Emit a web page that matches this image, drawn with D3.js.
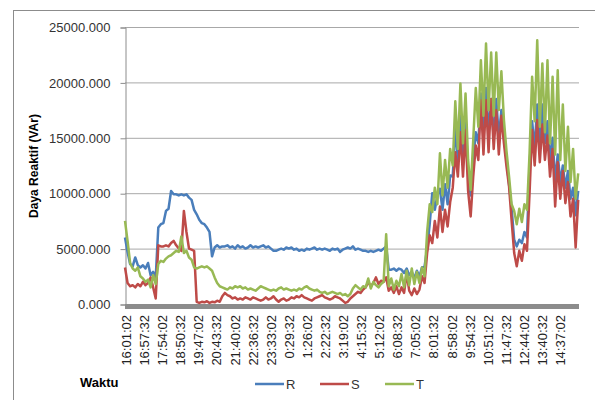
<!DOCTYPE html>
<html><head><meta charset="utf-8">
<script src="https://cdn.jsdelivr.net/npm/d3@7/dist/d3.min.js"></script>
<style>body{margin:0;background:#fff}svg{display:block}</style>
</head><body><svg id="c" width="595" height="400"></svg>
<script>
const tickLabels=["16:01:02","16:57:32","17:54:02","18:50:32","19:47:02","20:43:32","21:40:02","22:36:32","23:33:02","0:29:32","1:26:02","2:22:32","3:19:02","4:15:32","5:12:02","6:08:32","7:05:02","8:01:32","8:58:02","9:54:32","10:51:02","11:47:32","12:44:02","13:40:32","14:37:02"];
const tickStepSec=3390, sampleSec=480, spanSec=85110;
const yTicks=[0,5000,10000,15000,20000,25000];
const seriesNames=["R","S","T"];
const R=[6000,4700,3600,3400,4200,3500,3300,3500,3200,3700,2600,2900,2400,6900,7200,7300,8400,8600,10200,9900,9900,9800,9900,9800,9900,9600,9400,8500,8100,7600,7300,7200,6900,6500,4300,5100,5300,5100,5200,5200,5300,5100,
5200,5000,5300,5100,5200,5000,5100,5300,5100,5200,5100,5200,5300,5100,5200,5000,4800,4800,4900,5000,4900,5100,5000,5100,4900,5000,4800,4900,4800,5000,4900,5000,5100,4900,5000,4900,5000,4900,4800,5000,4900,5000,4700,4900,5000,5100,5000,5200,4900,5000,4900,4800,4800,4700,4800,4700,4800,4900,4800,5000,5200,
3100,3100,3200,3000,3200,3100,2800,3200,2600,2900,2300,3000,2500,3300,3400,5000,7200,10000,8500,9800,10400,8500,10800,9000,11600,11500,16000,13000,17000,13000,16500,12000,9800,13000,15500,14500,19000,15000,19500,15500,18500,15000,18500,15000,17500,15000,13000,10800,8600,5800,5200,5800,5500,6500,6000,12500,16500,14000,18000,14000,18000,14500,16500,13000,15000,11000,13500,11000,12500,10500,12000,9500,10500,8000,10200];
const S=[3300,1900,1600,1700,1500,1800,1600,2000,1700,1900,2400,1500,500,5300,5200,5200,5300,5200,5500,5700,5300,5000,4800,8400,6500,5000,4900,4800,200,100,200,150,250,100,200,150,300,200,700,1000,800,700,
500,600,400,500,400,600,500,400,600,500,400,300,400,600,400,500,700,400,200,400,500,300,400,600,500,700,600,800,600,500,400,300,500,600,700,800,600,500,400,500,700,600,500,300,100,200,500,700,900,1100,1000,1300,1500,2000,1600,1900,2400,1800,2100,2000,2400,
1200,1500,1000,1600,900,1500,1000,2800,1200,800,1400,900,1300,2500,1900,4600,6200,5500,7500,6000,8800,6500,8500,7000,9200,10500,13700,11500,15500,11500,15700,10200,7900,11500,14300,13000,18400,13500,18400,13700,18500,14000,17500,13500,17000,14500,12400,10600,7500,4600,3400,4800,3900,5400,4800,10000,15700,12500,16600,12800,16200,13000,15200,11500,14000,8800,12800,9500,12000,9100,11000,7900,9500,5100,9400];
const T=[7500,5700,3700,3200,3000,3300,2500,2300,2000,2200,1500,2600,1800,3600,3900,3800,4100,4300,4400,4600,4800,4700,6100,4600,4800,4200,4000,3300,3200,3300,3400,3300,3400,3200,3000,2400,1900,1600,1500,1400,1300,1500,
1400,1600,1500,1600,1400,1500,1300,1400,1300,1200,1400,1600,1500,1400,1300,1200,1300,1200,1400,1500,1300,1400,1300,1200,1300,1200,1400,1300,1500,1600,1400,1300,1200,1300,1100,1000,1100,900,1000,1100,1000,900,1000,800,900,700,900,1400,1700,1500,1300,1600,1500,2300,1400,2000,1700,1500,1800,2000,6300,
1600,2300,1300,2100,1600,2700,1500,3000,1700,3200,1800,2900,1900,3300,2500,6500,9000,8300,10500,9000,13600,9800,13000,10500,14000,12500,18300,14000,19900,14500,19000,13000,10300,14800,19500,16000,22000,17000,23500,17500,22700,17000,22700,17500,21000,16600,13800,11500,9000,8400,7200,8600,7400,9000,8500,13600,20500,16500,23800,16000,21700,15500,22000,14500,20500,13500,21100,13000,18000,12000,16000,11000,14000,9500,11800];
const colors={R:"#4a7ebb",S:"#be4b48",T:"#98b954"};

const svg=d3.select("#c");
const font="'Liberation Sans',Arial,sans-serif";
svg.append("rect").attr("x",13.5).attr("y",10.5).attr("width",700).attr("height",500).attr("fill","none").attr("stroke","#8c8c8c");
const x=d3.scaleLinear().domain([0,spanSec]).range([125,579]);
const y=d3.scaleLinear().domain([0,25000]).range([304,27]);

svg.append("g").selectAll("line").data(yTicks.slice(1)).join("line")
 .attr("x1",125).attr("x2",579).attr("y1",d=>y(d)+0.5).attr("y2",d=>y(d)+0.5)
 .attr("stroke","#a8a8a8").attr("stroke-width",1);
const ya=svg.append("g").attr("transform","translate(125.5,0.5)").call(d3.axisLeft(y).tickValues(yTicks).tickFormat(d=>d3.format(".3f")(d)).tickSizeOuter(0).tickSize(5).tickPadding(10));
ya.select(".domain").attr("stroke","#8c8c8c");
ya.selectAll(".tick line").attr("stroke","#8c8c8c");
ya.selectAll("text").attr("font-family",font).attr("font-size","13px").attr("fill","#333");
svg.append("rect").attr("x",125).attr("y",304).attr("width",454).attr("height",5).attr("fill","#8c8c8c");
const xa=svg.append("g").attr("transform","translate(0,309)").call(d3.axisBottom(x).tickValues(tickLabels.map((_,k)=>k*tickStepSec)).tickFormat((d,k)=>tickLabels[k]).tickSize(0));
xa.select(".domain").remove();
xa.selectAll("text").attr("font-family",font).attr("font-size","13px").attr("fill","#222")
 .attr("text-anchor","end").attr("transform","translate(1,6) rotate(-90)").attr("x",0).attr("y",0).attr("dy","0.35em");

const line=d3.line().x((d,i)=>x(i*sampleSec)).y(d=>y(d));
[R,S,T].forEach((arr,k)=>{
 svg.append("path").datum(arr).attr("d",line).attr("fill","none")
  .attr("stroke",colors[seriesNames[k]]).attr("stroke-width",2.5).attr("stroke-linejoin","round");
});

svg.append("text").attr("transform","translate(38,166) rotate(-90)").attr("text-anchor","middle")
 .attr("font-family",font).attr("font-weight","bold").attr("font-size","12px").attr("fill","#000").text("Daya Reaktif (VAr)");
svg.append("text").attr("x",80).attr("y",387).attr("font-family",font).attr("font-weight","bold").attr("font-size","13px").attr("fill","#000").text("Waktu");
const legX=[255,320,385];
const lg=svg.append("g").selectAll("g").data(seriesNames).join("g").attr("transform",(d,i)=>`translate(${legX[i]},384)`);
lg.append("line").attr("x1",0).attr("x2",29).attr("stroke",d=>colors[d]).attr("stroke-width",2.5);
lg.append("text").attr("x",31).attr("dy","0.38em").attr("font-family",font).attr("font-size","13px").attr("fill","#333").text(d=>d);
</script></body></html>
